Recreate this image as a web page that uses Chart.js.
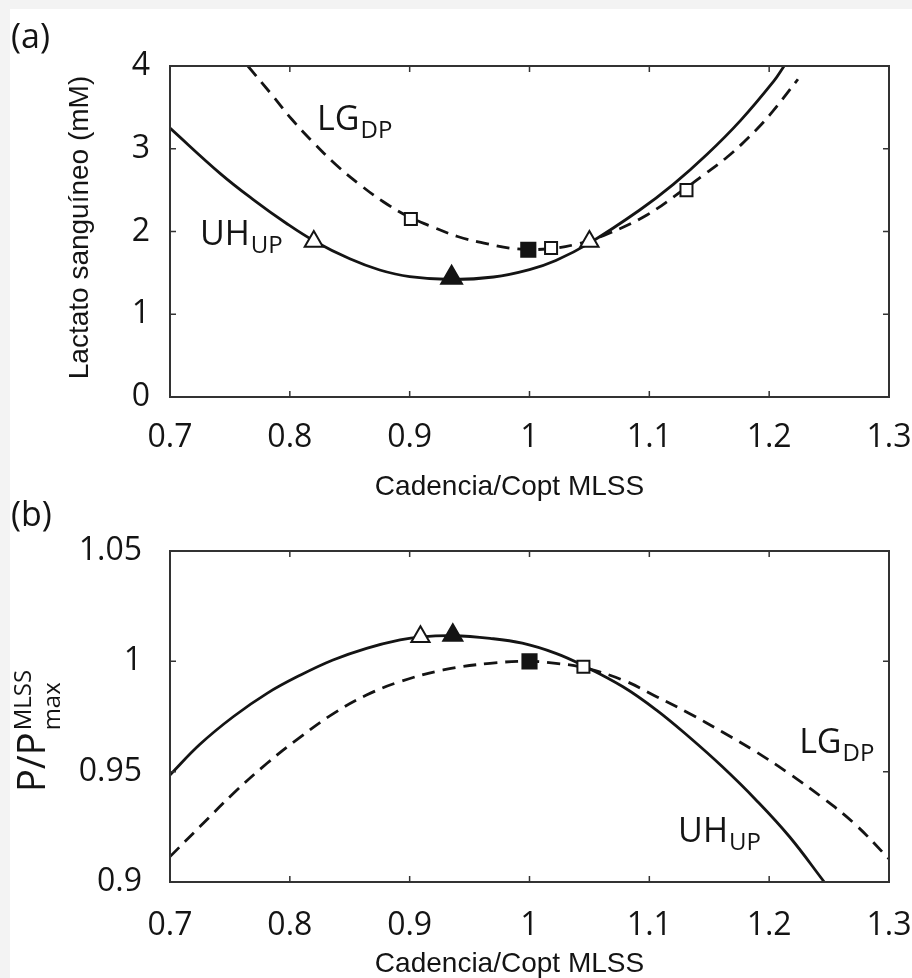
<!DOCTYPE html>
<html lang="es"><head><meta charset="utf-8"><title>Lactato y potencia vs cadencia</title>
<script src="https://cdn.jsdelivr.net/npm/chart.js@4.4.1/dist/chart.umd.min.js"></script>
<style>
html,body{margin:0;padding:0;width:912px;height:978px;overflow:hidden;background:#f3f3f3;}
#page{position:absolute;left:10px;top:9px;width:902px;height:969px;background:#fff;}
canvas{position:absolute;left:0;}
#ca{top:0;width:912px;height:510px;}
#cb{top:480px;width:912px;height:498px;}
</style></head><body>
<div id="page"></div>
<canvas id="ca" width="912" height="510"></canvas>
<canvas id="cb" width="912" height="498"></canvas>
<script>
// ---------- data ----------
const xTicks = [0.7, 0.8, 0.9, 1, 1.1, 1.2, 1.3];
const yTicksA = [0, 1, 2, 3, 4];
const yTicksB = [0.9, 0.95, 1, 1.05];

// panel (a): blood lactate (mM)
const aUHx = [0.700,0.742,0.770,0.797,0.821,0.850,0.875,0.900,0.935,0.970,1.000,1.022,1.050,1.092,1.120,1.148,1.176,1.204,1.2125];
const aUHy = [3.25,2.70,2.38,2.10,1.88,1.67,1.535,1.455,1.42,1.45,1.54,1.65,1.86,2.26,2.57,2.93,3.34,3.82,4.00];
const aLGx = [0.765,0.784,0.802,0.820,0.839,0.859,0.878,0.899,0.920,0.940,0.965,0.990,1.015,1.040,1.065,1.098,1.128,1.145,1.165,1.183,1.200,1.224];
const aLGy = [4.00,3.67,3.35,3.07,2.80,2.56,2.36,2.18,2.05,1.94,1.85,1.79,1.79,1.85,1.97,2.20,2.50,2.68,2.90,3.14,3.40,3.84];
const aOpenTriX = [0.820, 1.050], aOpenTriY = [1.88, 1.88];
const aFillTriX = [0.935],        aFillTriY = [1.44];
const aOpenSqX  = [0.901, 1.018, 1.131], aOpenSqY = [2.15, 1.80, 2.50];
const aFillSqX  = [0.999],        aFillSqY  = [1.78];

// panel (b): P / Pmax(MLSS)
const bUHx = [0.700,0.725,0.753,0.781,0.809,0.836,0.864,0.892,0.910,0.936,0.967,0.994,1.022,1.044,1.078,1.106,1.133,1.161,1.189,1.217,1.246];
const bUHy = [0.9485,0.9624,0.9750,0.9855,0.9938,1.0006,1.0059,1.0097,1.0111,1.0116,1.0104,1.0082,1.0036,0.9983,0.9885,0.9779,0.9658,0.9522,0.9372,0.9205,0.9000];
const bLGx = [0.700,0.725,0.753,0.781,0.809,0.836,0.864,0.892,0.928,0.967,1.000,1.022,1.044,1.078,1.106,1.133,1.161,1.189,1.217,1.245,1.272,1.300];
const bLGy = [0.9115,0.9251,0.9402,0.9538,0.9658,0.9762,0.9847,0.9908,0.9961,0.9991,1.0000,0.9991,0.9973,0.9915,0.9840,0.9765,0.9680,0.9590,0.9490,0.9380,0.9260,0.9105];
const bOpenTriX = [0.909], bOpenTriY = [1.0111];
const bFillTriX = [0.936], bFillTriY = [1.0118];
const bOpenSqX  = [1.045], bOpenSqY  = [0.9975];
const bFillSqX  = [1.000], bFillSqY  = [1.0000];

// text
const xTitle = 'Cadencia/Copt MLSS';
const yTitleA = 'Lactato sanguíneo (mM)';

// ---------- helpers ----------
const INK = '#141414';
const zip = (xs, ys) => xs.map((x, i) => ({x: x, y: ys[i]}));
const fmt = v => String(+(+v).toFixed(2));
const TICKFONT = {family: '"Open Sans", sans-serif', size: 32};

function curve(xs, ys, dashed) {
  return {data: zip(xs, ys), showLine: true, borderColor: INK, borderWidth: 2.8,
    borderDash: dashed ? [13, 8] : [], pointRadius: 0, pointHoverRadius: 0,
    tension: 0.4, order: 2};
}
function marks(xs, ys, style, r, filled) {
  return {data: zip(xs, ys), showLine: false, pointStyle: style, pointRadius: r, pointHoverRadius: r,
    pointBackgroundColor: filled ? INK : '#ffffff', pointBorderColor: INK, pointBorderWidth: 2, order: 0};
}

const frameTicks = {
  id: 'frameTicks',
  afterDatasetsDraw(chart) {
    const {ctx, chartArea: a, scales: {x, y}} = chart;
    ctx.save();
    ctx.strokeStyle = '#333';
    ctx.lineWidth = 2;
    ctx.strokeRect(a.left, a.top, a.right - a.left, a.bottom - a.top);
    ctx.lineWidth = 1.5;
    const L = 6;
    ctx.beginPath();
    x.ticks.forEach(t => {
      const p = x.getPixelForValue(t.value);
      ctx.moveTo(p, a.bottom); ctx.lineTo(p, a.bottom - L);
      ctx.moveTo(p, a.top); ctx.lineTo(p, a.top + L);
    });
    y.ticks.forEach(t => {
      const p = y.getPixelForValue(t.value);
      ctx.moveTo(a.left, p); ctx.lineTo(a.left + L, p);
      ctx.moveTo(a.right, p); ctx.lineTo(a.right - L, p);
    });
    ctx.stroke();
    ctx.restore();
  }
};

function subLabel(ctx, px, py, main, sub) {
  ctx.textAlign = 'left';
  ctx.textBaseline = 'alphabetic';
  ctx.font = '34px "Open Sans", sans-serif';
  ctx.fillText(main, px, py);
  const w = ctx.measureText(main).width;
  ctx.font = '24px "Open Sans", sans-serif';
  ctx.fillText(sub, px + w + 1, py + 8);
}

function textPlugin(drawFn) {
  return {id: 'panelText', afterDraw(chart) {
    const ctx = chart.ctx;
    ctx.save();
    ctx.fillStyle = INK;
    drawFn(chart, ctx);
    ctx.restore();
  }};
}

function baseOptions(yMin, yMax, yTicks, yPad, xPad, xAxisH, padTop) {
  return {
    responsive: false, animation: false,
    layout: {padding: {left: 0, right: 23, top: padTop, bottom: 0}},
    plugins: {legend: {display: false}, tooltip: {enabled: false}},
    events: [],
    scales: {
      x: {type: 'linear', min: 0.7, max: 1.3,
        afterBuildTicks: s => { s.ticks = xTicks.map(v => ({value: v})); },
        afterFit: s => { s.height = xAxisH; s.paddingLeft = 0; s.paddingRight = 0; },
        grid: {display: false}, border: {display: false},
        ticks: {font: TICKFONT, color: INK, padding: xPad, maxRotation: 0, autoSkip: false, callback: v => fmt(v)}},
      y: {type: 'linear', min: yMin, max: yMax,
        afterBuildTicks: s => { s.ticks = yTicks.map(v => ({value: v})); },
        afterFit: s => { s.width = 170; s.paddingTop = 0; s.paddingBottom = 0; },
        grid: {display: false}, border: {display: false},
        ticks: {font: TICKFONT, color: INK, padding: yPad, autoSkip: false, callback: v => fmt(v)}}
    }
  };
}

// ---------- panel (a) ----------
new Chart(document.getElementById('ca'), {
  type: 'scatter',
  data: {datasets: [
    marks(aFillTriX, aFillTriY, 'triangle', 12, true),
    marks(aOpenTriX, aOpenTriY, 'triangle', 10.5, false),
    marks(aFillSqX, aFillSqY, 'rect', 10, true),
    marks(aOpenSqX, aOpenSqY, 'rect', 8.5, false),
    curve(aUHx, aUHy, false),
    curve(aLGx, aLGy, true)
  ]},
  options: baseOptions(0, 4, yTicksA, 12, 14, 113, 66),
  plugins: [frameTicks, textPlugin((chart, ctx) => {
    const {x, y} = chart.scales; const a = chart.chartArea;
    ctx.font = '34px "Open Sans", sans-serif';
    ctx.textAlign = 'left'; ctx.textBaseline = 'alphabetic';
    ctx.fillText('(a)', 11, 48);
    subLabel(ctx, x.getPixelForValue(0.8227), y.getPixelForValue(3.227), 'LG', 'DP');
    subLabel(ctx, x.getPixelForValue(0.725), y.getPixelForValue(1.837), 'UH', 'UP');
    ctx.font = '28px "Liberation Sans", Arial, sans-serif';
    ctx.textAlign = 'center';
    ctx.fillText(xTitle, (a.left + a.right) / 2 - 20, 495);
    ctx.save();
    ctx.translate(88, (a.top + a.bottom) / 2 - 4);
    ctx.rotate(-Math.PI / 2);
    ctx.fillText(yTitleA, 0, 0);
    ctx.restore();
  })]
});

// ---------- panel (b) ----------
new Chart(document.getElementById('cb'), {
  type: 'scatter',
  data: {datasets: [
    marks(bFillTriX, bFillTriY, 'triangle', 11, true),
    marks(bOpenTriX, bOpenTriY, 'triangle', 10.5, false),
    marks(bFillSqX, bFillSqY, 'rect', 10, true),
    marks(bOpenSqX, bOpenSqY, 'rect', 8.5, false),
    curve(bUHx, bUHy, false),
    curve(bLGx, bLGy, true)
  ]},
  options: baseOptions(0.9, 1.05, yTicksB, 20, 17, 96, 71),
  plugins: [frameTicks, textPlugin((chart, ctx) => {
    const {x, y} = chart.scales; const a = chart.chartArea;
    ctx.font = '34px "Open Sans", sans-serif';
    ctx.textAlign = 'left'; ctx.textBaseline = 'alphabetic';
    ctx.fillText('(b)', 11, 46);
    subLabel(ctx, x.getPixelForValue(1.225), y.getPixelForValue(0.95846), 'LG', 'DP');
    subLabel(ctx, x.getPixelForValue(1.124), y.getPixelForValue(0.91813), 'UH', 'UP');
    ctx.font = '28px "Liberation Sans", Arial, sans-serif';
    ctx.textAlign = 'center';
    ctx.fillText(xTitle, (a.left + a.right) / 2 - 20, 492);
    // y title: P/P with stacked super/subscript
    ctx.save();
    ctx.translate(45, 312);
    ctx.rotate(-Math.PI / 2);
    ctx.textAlign = 'left';
    ctx.font = '38px "Open Sans", sans-serif';
    ctx.fillText('P/P', 0, 0);
    const w = ctx.measureText('P/P').width;
    ctx.font = '24px "Open Sans", sans-serif';
    ctx.fillText('MLSS', w + 2, -14);
    ctx.fillText('max', w + 2, 15);
    ctx.restore();
  })]
});
</script></body></html>
